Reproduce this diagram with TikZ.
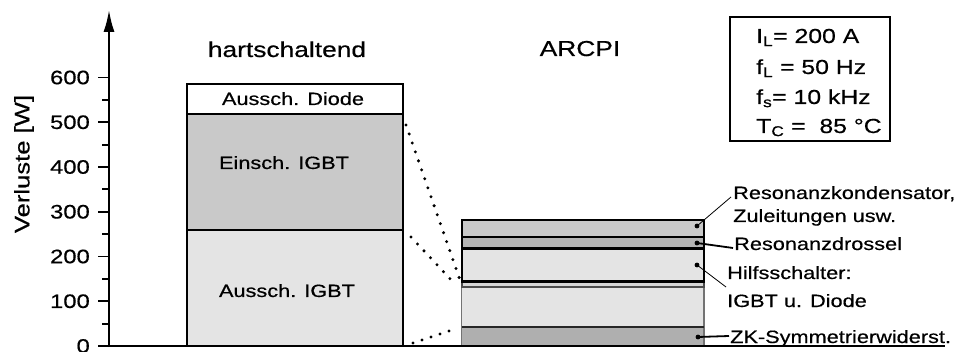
\documentclass[tikz,border=0pt]{standalone}
\usepackage{fontspec}
\setmainfont{Liberation Sans}[FakeStretch=1.22,FakeBold=0.5]
\usetikzlibrary{arrows.meta}
\definecolor{gA}{HTML}{E4E4E4}
\definecolor{gB}{HTML}{C9C9C9}
\definecolor{gC}{HTML}{B4B4B4}
\definecolor{gD}{HTML}{AFAFAF}
\definecolor{gE}{HTML}{D6D6D6}
\begin{document}
\begin{tikzpicture}[x=1pt,y=-1pt,
  lab/.style={inner sep=0pt, font=\fontsize{17.8}{20}\selectfont},
  ttl/.style={inner sep=0pt, font=\fontsize{21.6}{24}\selectfont, anchor=base},
  ticklab/.style={inner sep=0pt, font=\fontsize{19.5}{22}\selectfont, anchor=east},
  leg/.style={inner sep=0pt, font=\fontsize{20.3}{24}\selectfont, anchor=base west},
  barbox/.style={draw=black, line width=1.5pt},
  thickbar/.style={draw=black, line width=2.4pt},
  dots/.style={line width=3.3pt, dash pattern=on 0pt off 9.5pt, line cap=round},
  thinlead/.style={line width=0.8pt},
  thicklead/.style={line width=1.8pt},
  pt/.style={circle, fill=black, inner sep=0pt, minimum size=4.8pt}]
\useasboundingbox (0,0) rectangle (960,352);

% ---- bar 1 (hartschaltend)
\filldraw[barbox, fill=white] (187,84.2) rectangle (403,114);
\filldraw[barbox, fill=gB] (187,114) rectangle (403,230);
\filldraw[barbox, fill=gA] (187,230) rectangle (403,346);
\node[lab, anchor=base] (diode) at (293,105) {Aussch. Diode};
\node[lab, anchor=base] (einig) at (284,169) {Einsch. IGBT};
\node[lab, anchor=base] (ausig) at (287,297) {Aussch. IGBT};

% ---- bar 2 (ARCPI)
\fill[gD] (461.7,327) rectangle (704,346);
\fill[gA] (461.7,287) rectangle (704,327);
\draw[line width=1.2pt, black!55] (461.7,346) -- (461.7,287) (704,287) -- (704,346);
\draw[line width=1.2pt, black!85] (461.7,327) -- (704,327);
\filldraw[fill=gE, draw=black!70, line width=1.6pt] (461.7,282) rectangle (704,287);
\filldraw[thickbar, fill=gA] (461.7,248.5) rectangle (704,281.5);
\filldraw[thickbar, fill=gC] (461.7,237) rectangle (704,248.5);
\filldraw[thickbar, fill=gB] (461.7,220) rectangle (704,237);

% ---- dotted connections
\coordinate (d1a) at (406,125); \coordinate (d1b) at (460,280);
\coordinate (d2a) at (411,237); \coordinate (d2b) at (454,283);
\coordinate (d3a) at (413,343); \coordinate (d3b) at (455,329);
\draw[dots] (d1a) -- (d1b);
\draw[dots] (d2a) -- (d2b);
\draw[dots] (d3a) -- (d3b);

% ---- axes
\coordinate (o) at (109,346);
\coordinate (ytop) at (109,10);
\coordinate (xend) at (945,346);
\draw[line width=2pt] (o) -- (xend);
\draw[line width=2pt, -{Latex[length=22pt,width=11pt]}] (109,347) -- (ytop);
\foreach \v in {0,100,...,600} {
  \pgfmathsetmacro{\yy}{346-0.4475*\v}
  \draw[line width=1.8pt] (98,\yy) -- (109,\yy);
  \node[ticklab] (t\v) at (90,\yy) {\v};
}
\foreach \v in {50,150,...,550} {
  \pgfmathsetmacro{\yy}{346-0.4475*\v}
  \draw[line width=1.8pt] (102,\yy) -- (109,\yy);
}
\node[inner sep=0pt, font=\fontsize{21}{24}\selectfont, rotate=90] (ylab) at (24,164) {Verluste [W]};

% ---- titles
\node[ttl] (hart) at (287,57) {hartschaltend};
\node[ttl] (arcpi) at (580,56) {ARCPI};

% ---- legend
\node[draw=black, line width=1.8pt, minimum width=160pt, minimum height=124pt, inner sep=0pt] (legend) at (810,79) {};
\node[leg] (l1) at (756,43) {I\textsubscript{L}= 200 A};
\node[leg] (l2) at (756,74) {f\textsubscript{L} = 50 Hz};
\node[leg] (l3) at (756,104) {f\textsubscript{s}= 10 kHz};
\node[leg] (l4) at (756,133) {T\textsubscript{C} =\ \ 85 °C};

% ---- right labels with leaders
\node[pt] (p1) at (697,226) {};
\node[pt] (p2) at (697,243) {};
\node[pt] (p3) at (697,265) {};
\node[pt] (p4) at (698,337) {};
\node[lab, anchor=base west] (r1) at (733,199) {Resonanzkondensator,};
\node[lab, anchor=base west] (r1b) at (733,222) {Zuleitungen usw.};
\node[lab, anchor=base west] (r2) at (734,250) {Resonanzdrossel};
\node[lab, anchor=base west] (r3) at (727,279) {Hilfsschalter:};
\node[lab, anchor=base west] (r3b) at (727,307) {IGBT u. Diode};
\node[lab, anchor=base west] (r4) at (730,343) {ZK-Symmetrierwiderst.};
\coordinate (e1) at (731,197);
\coordinate (e2) at (733,248);
\coordinate (e3) at (726,287);
\coordinate (e4) at (729,336);
\draw[thinlead] (p1.center) -- (e1);
\draw[thicklead] (p2.center) -- (e2);
\draw[thinlead] (p3.center) -- (e3);
\draw[thicklead] (p4.center) -- (e4);
\end{tikzpicture}
\end{document}
